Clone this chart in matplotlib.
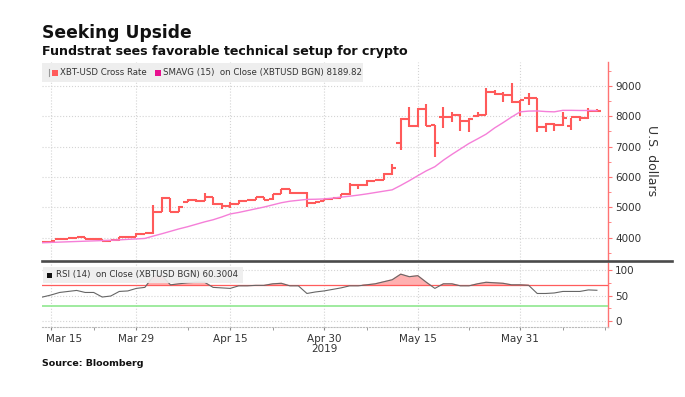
import numpy as np
import pandas as pd
import matplotlib
matplotlib.use('Agg')
import matplotlib.pyplot as plt
from matplotlib.lines import Line2D
from matplotlib.patches import Rectangle
import matplotlib.transforms as mtransforms

plt.rcParams['font.family'] = ['DejaVu Sans']

# weekday bars, XBT-USD
dates = pd.bdate_range('2019-03-14', '2019-06-13')

opens = [3860, 3870, 3955, 3970, 3985, 4015, 3960, 3960, 3900, 3915,
         4015, 4020, 4120, 4145, 4840, 5300, 4850, 5180, 5250, 5215,
         5330, 5110, 5040, 5110, 5215, 5240, 5330, 5260, 5440, 5590,
         5460, 5465, 5150, 5205, 5270, 5315, 5425, 5735, 5730, 5865,
         5900, 6095, 7105, 7895, 7685, 8220, 7710, 7980, 7980, 8045,
         7840, 7990, 8030, 8800, 8740, 8695, 8450, 8580, 8585, 7650,
         7730, 7700, 7685, 7980, 7950, 8170]
highs = [3885, 3890, 3985, 3995, 4020, 4035, 3975, 3970, 3920, 4035,
         4025, 4145, 4160, 5075, 5330, 5310, 5030, 5260, 5265, 5460,
         5340, 5150, 5185, 5225, 5255, 5345, 5340, 5450, 5600, 5600,
         5480, 5510, 5170, 5280, 5320, 5430, 5790, 5740, 5900, 5910,
         6120, 6415, 7950, 8310, 8255, 8390, 7710, 8290, 8125, 8060,
         7925, 8145, 8915, 8860, 8780, 9080, 8530, 8750, 8600, 7760,
         7780, 8145, 7925, 8010, 8275, 8230]
lows = [3845, 3860, 3945, 3960, 3975, 3950, 3950, 3880, 3890, 3905,
        4000, 4010, 4110, 4135, 4830, 4830, 4840, 5170, 5190, 5205,
        5075, 4935, 4965, 5100, 5200, 5230, 5240, 5250, 5430, 5440,
        5440, 5000, 5120, 5195, 5260, 5305, 5420, 5600, 5710, 5850,
        5890, 6060, 6885, 7650, 7650, 7685, 6660, 7600, 7815, 7510,
        7490, 7975, 8020, 8695, 8475, 8420, 8010, 8365, 7490, 7490,
        7500, 7690, 7540, 7850, 7900, 8150]
closes = [3870, 3875, 3970, 3985, 4010, 3960, 3965, 3900, 3910, 4015,
          4010, 4120, 4145, 4835, 5310, 4845, 5010, 5250, 5215, 5330,
          5110, 5040, 5110, 5215, 5240, 5330, 5255, 5440, 5590, 5460,
          5465, 5150, 5160, 5270, 5315, 5425, 5735, 5730, 5865, 5900,
          6095, 6300, 7895, 7685, 8220, 7685, 7105, 7980, 8045, 7840,
          7905, 8030, 8800, 8740, 8695, 8450, 8530, 8585, 7630, 7730,
          7700, 7925, 7980, 7950, 8170, 8170]
smavg = [3835, 3845, 3855, 3865, 3875, 3885, 3895, 3905, 3915, 3928,
         3945, 3960, 3975, 4055, 4130, 4210, 4290, 4360, 4440, 4520,
         4590, 4680, 4780, 4830, 4890, 4950, 5010, 5080, 5150, 5200,
         5230, 5260, 5265, 5275, 5300, 5335, 5365, 5400, 5440, 5485,
         5530, 5575, 5720, 5875, 6040, 6200, 6335, 6550, 6740, 6920,
         7100, 7250, 7405, 7610, 7785, 7970, 8140, 8165, 8170, 8150,
         8140, 8190, 8190, 8185, 8185, 8180]
rsi = [47, 51, 56, 58, 60, 56, 56, 47, 49, 58,
       59, 64, 66, 88, 89, 71, 73, 75, 76, 76,
       66, 65, 64, 69, 69, 70, 70, 73, 74, 69,
       69, 54, 57, 59, 62, 65, 69, 69, 71, 73,
       77, 81, 92, 87, 89, 76, 64, 73, 73, 69,
       69, 73, 76, 75, 74, 71, 71, 70, 54, 54,
       55, 58, 58, 58, 61, 60.3]

label_dates = ['2019-03-15', '2019-03-29', '2019-04-15', '2019-04-30', '2019-05-15', '2019-05-31']
label_text = ['Mar 15', 'Mar 29', 'Apr 15', 'Apr 30', 'May 15', 'May 31']
minor_dates = ['2019-03-22', '2019-04-08', '2019-04-22', '2019-05-07', '2019-05-23', '2019-06-07', '2019-06-14']

BAR = '#ff5a5a'
AXIS_RED = '#ff7373'
TXT = '#333333'

x = np.arange(len(dates))
start = dates[0].date()
major_pos = np.busday_count(start, np.array(label_dates, dtype='datetime64[D]'))
minor_pos = np.busday_count(start, np.array(minor_dates, dtype='datetime64[D]'))

fig = plt.figure(figsize=(6.85, 3.97), dpi=100)
W, H = 685.0, 397.0
ax = fig.add_axes([42 / W, 1 - 260 / H, 566 / W, 198 / H])
ax2 = fig.add_axes([42 / W, 1 - 327 / H, 566 / W, 64 / H])

# ---- price panel
o = np.array(opens); c = np.array(closes)
ax.vlines(x, lows, highs, color=BAR, lw=1.5, zorder=3)
ax.hlines(o, x - 0.5, x, color=BAR, lw=1.5, zorder=3)
ax.hlines(c, x, x + 0.5, color=BAR, lw=1.5, zorder=3)
ax.plot(x, smavg, color='#f57fd8', lw=1.0, zorder=4)

for a in (ax, ax2):
    a.set_xlim(-0.06, 66.3)
    a.yaxis.tick_right()
    for s in ('left', 'top'):
        a.spines[s].set_visible(False)
    a.spines['right'].set_color(AXIS_RED)
    a.spines['right'].set_linewidth(1.0)
    a.tick_params(axis='y', which='both', colors=AXIS_RED, labelcolor=TXT,
                  labelsize=7.5, pad=2)
    a.tick_params(axis='y', which='major', length=3)
    a.tick_params(axis='y', which='minor', length=2)
    a.set_xticks(major_pos)
    a.set_xticks(minor_pos, minor=True)
    a.grid(True, which='major', color='#d4d4d4', linestyle=':', lw=0.8)
    a.set_axisbelow(True)

ax.set_ylim(3266, 9780)
ax.set_yticks([4000, 5000, 6000, 7000, 8000, 9000])
ax.set_yticks(np.arange(3500, 9800, 500), minor=True)
ax.spines['bottom'].set_visible(False)
ax.tick_params(axis='x', which='both', length=0, labelbottom=False)
ax.yaxis.set_label_position('right')
ax.set_ylabel('U.S. dollars', rotation=270, color=TXT, fontsize=9, labelpad=12)

# ---- RSI panel
r = np.array(rsi, dtype=float)
ax2.plot(x, r, color='#666666', lw=0.8, zorder=4)
ax2.fill_between(x, r, 70, where=r > 70, interpolate=True, color='#ffb0b0', zorder=3)
ax2.axhline(70, color='#ff5c5c', lw=0.9, zorder=3)
ax2.axhline(30, color='#8fe88f', lw=1.2, zorder=3)
ax2.set_ylim(-12, 114)
ax2.set_yticks([0, 50, 100])
ax2.set_yticks([25, 75], minor=True)
ax2.spines['bottom'].set_color('#bbbbbb')
ax2.spines['bottom'].set_linestyle(':')
ax2.set_xticklabels(label_text)
ax2.tick_params(axis='x', which='both', colors='#888888', labelcolor=TXT,
                labelsize=7.5, length=2, pad=3)
first = ax2.get_xticklabels()[0]
first.set_ha('left')
first.set_transform(first.get_transform() + mtransforms.ScaledTranslation(-5 / 100, 0, fig.dpi_scale_trans))
ax2.text(major_pos[3], -0.27, '2019', transform=ax2.get_xaxis_transform(),
         ha='center', va='top', fontsize=7.5, color=TXT)

# separator between panels
fig.add_artist(Line2D([42 / W, 672 / W], [1 - 261 / H, 1 - 261 / H],
                      color='#4a4a4a', lw=1.9))

# legend boxes
fig.add_artist(Rectangle((42 / W, 1 - 82 / H), 321 / W, 19 / H,
                         facecolor='#eeeeee', edgecolor='none', zorder=5))
fig.add_artist(Line2D([49 / W, 49 / W], [1 - 76 / H, 1 - 69 / H], color='#999999', lw=0.8, zorder=6))
fig.add_artist(Rectangle((52 / W, 1 - 76 / H), 6 / W, 6 / H, facecolor=BAR, edgecolor='none', zorder=6))
fig.text(60 / W, 1 - 72.5 / H, 'XBT-USD Cross Rate', fontsize=6.2, color=TXT, va='center', zorder=7)
fig.add_artist(Rectangle((155 / W, 1 - 76 / H), 6 / W, 6 / H, facecolor='#e8108f', edgecolor='none', zorder=6))
fig.text(163 / W, 1 - 72.5 / H, 'SMAVG (15)  on Close (XBTUSD BGN) 8189.82',
         fontsize=6.2, color=TXT, va='center', zorder=7)

fig.add_artist(Rectangle((43 / W, 1 - 283 / H), 200 / W, 16 / H,
                         facecolor='#eeeeee', edgecolor='none', alpha=0.9, zorder=5))
fig.add_artist(Rectangle((47 / W, 1 - 278 / H), 5 / W, 5 / H, facecolor='#111111', edgecolor='none', zorder=6))
fig.text(56 / W, 1 - 275 / H, 'RSI (14)  on Close (XBTUSD BGN) 60.3004',
         fontsize=6.2, color=TXT, va='center', zorder=7)

# titles
fig.text(42 / W, 1 - 38 / H, 'Seeking Upside', fontsize=12.3, fontweight='bold',
         color='#111111', va='baseline')
fig.text(42 / W, 1 - 55 / H, 'Fundstrat sees favorable technical setup for crypto',
         fontsize=9.1, fontweight='bold', color='#111111', va='baseline')
fig.text(42 / W, 1 - 366 / H, 'Source: Bloomberg', fontsize=6.8, fontweight='bold',
         color='#111111', va='baseline')

fig.savefig('out.png', dpi=100)
